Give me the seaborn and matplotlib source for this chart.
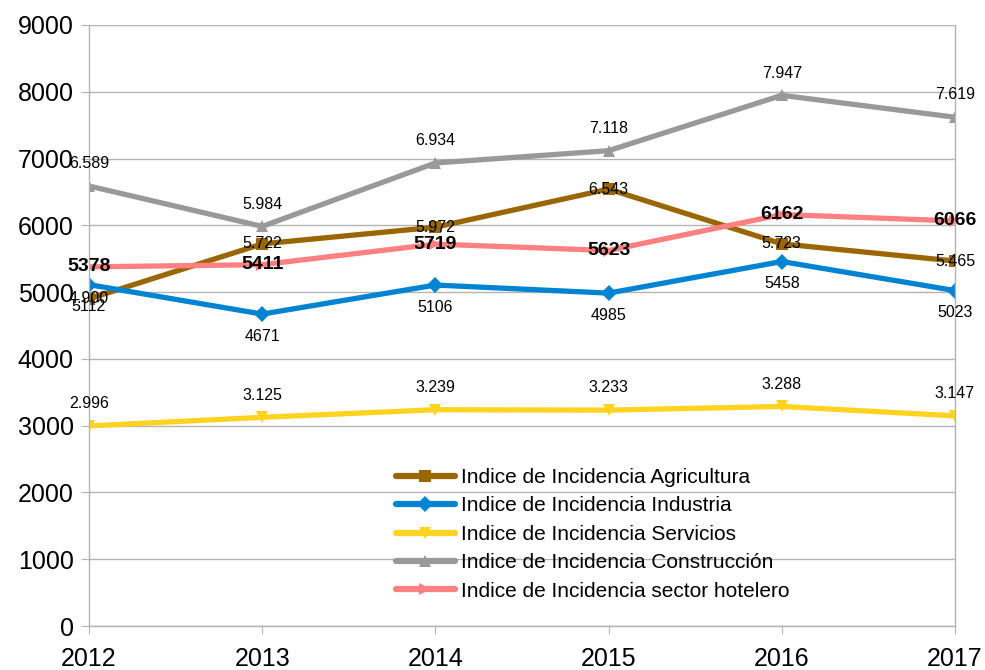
import numpy as np
import pandas as pd
import matplotlib
matplotlib.use("Agg")
import matplotlib.pyplot as plt
import seaborn as sns

years = [2012, 2013, 2014, 2015, 2016, 2017]
agricultura = [4900, 5722, 5972, 6543, 5723, 5465]
industria = [5112, 4671, 5106, 4985, 5458, 5023]
servicios = [2996, 3125, 3239, 3233, 3288, 3147]
construccion = [6589, 5984, 6934, 7118, 7947, 7619]
hotelero = [5378, 5411, 5719, 5623, 6162, 6066]

names = ["Indice de Incidencia Agricultura", "Indice de Incidencia Industria",
         "Indice de Incidencia Servicios", "Indice de Incidencia Construcción",
         "Indice de Incidencia sector hotelero"]
series = [agricultura, industria, servicios, construccion, hotelero]
colors = ["#996600", "#0084d1", "#ffd320", "#999999", "#ff8080"]
markers = ["s", "D", "v", "^", ">"]

df = pd.DataFrame({
    "year": years * len(names),
    "value": sum(series, []),
    "serie": np.repeat(names, len(years)),
})

sns.set_style("white")
plt.rcParams["font.family"] = ["Liberation Sans", "DejaVu Sans"]
plt.rcParams["text.color"] = "black"

fig = plt.figure(figsize=(9.85, 6.7), dpi=100)
ax = fig.add_axes([89 / 985, 44 / 670, 866 / 985, 601 / 670])

sns.lineplot(data=df, x="year", y="value", hue="serie", style="serie",
             palette=dict(zip(names, colors)), markers=dict(zip(names, markers)),
             dashes=False, linewidth=3.8, markersize=8, markeredgewidth=0,
             ax=ax, legend=True)

# data labels
for name, vals in zip(names, series):
    for x, v in zip(years, vals):
        if name.endswith("hotelero"):
            ax.annotate(f"{v}", (x, v), ha="center", va="center",
                        fontsize=14, fontweight="bold", color="black")
        elif name.endswith("Industria"):
            ax.annotate(f"{v}", (x, v), xytext=(0, -16), textcoords="offset points",
                        ha="center", va="center", fontsize=11.5, color="black")
        elif name.endswith("Agricultura"):
            s = f"{v:,}".replace(",", ".")
            ax.annotate(s, (x, v), ha="center", va="center", fontsize=11.5,
                        color="black")
        else:
            s = f"{v:,}".replace(",", ".")
            ax.annotate(s, (x, v), xytext=(0, 16), textcoords="offset points",
                        ha="center", va="center", fontsize=11.5, color="black")

ax.set_xlim(2012, 2017)
ax.set_ylim(0, 9000)
ax.set_yticks(range(0, 9001, 1000))
ax.set_xticks(years)
ax.set_xlabel("")
ax.set_ylabel("")
ax.grid(axis="y", color="#b3b3b3", linewidth=1)
ax.grid(axis="x", visible=False)
ax.set_axisbelow(True)
ax.spines["top"].set_visible(False)
for side in ["left", "right", "bottom"]:
    ax.spines[side].set_color("#b3b3b3")
    ax.spines[side].set_linewidth(1)
ax.tick_params(axis="both", which="both", length=6, color="#b3b3b3",
               labelsize=18, labelcolor="black", direction="out",
               left=True, bottom=True)
ax.tick_params(axis="x", pad=9)
ax.tick_params(axis="y", pad=5)

leg = ax.legend(loc="lower left", bbox_to_anchor=(0.338, 0.018), frameon=False,
                fontsize=15, handlelength=2.8, labelspacing=0.45, borderpad=0.2,
                handletextpad=0.3)
for line in leg.get_lines():
    line.set_linewidth(4.5)
for t in leg.get_texts():
    t.set_color("black")

fig.savefig("out.png", dpi=100)
